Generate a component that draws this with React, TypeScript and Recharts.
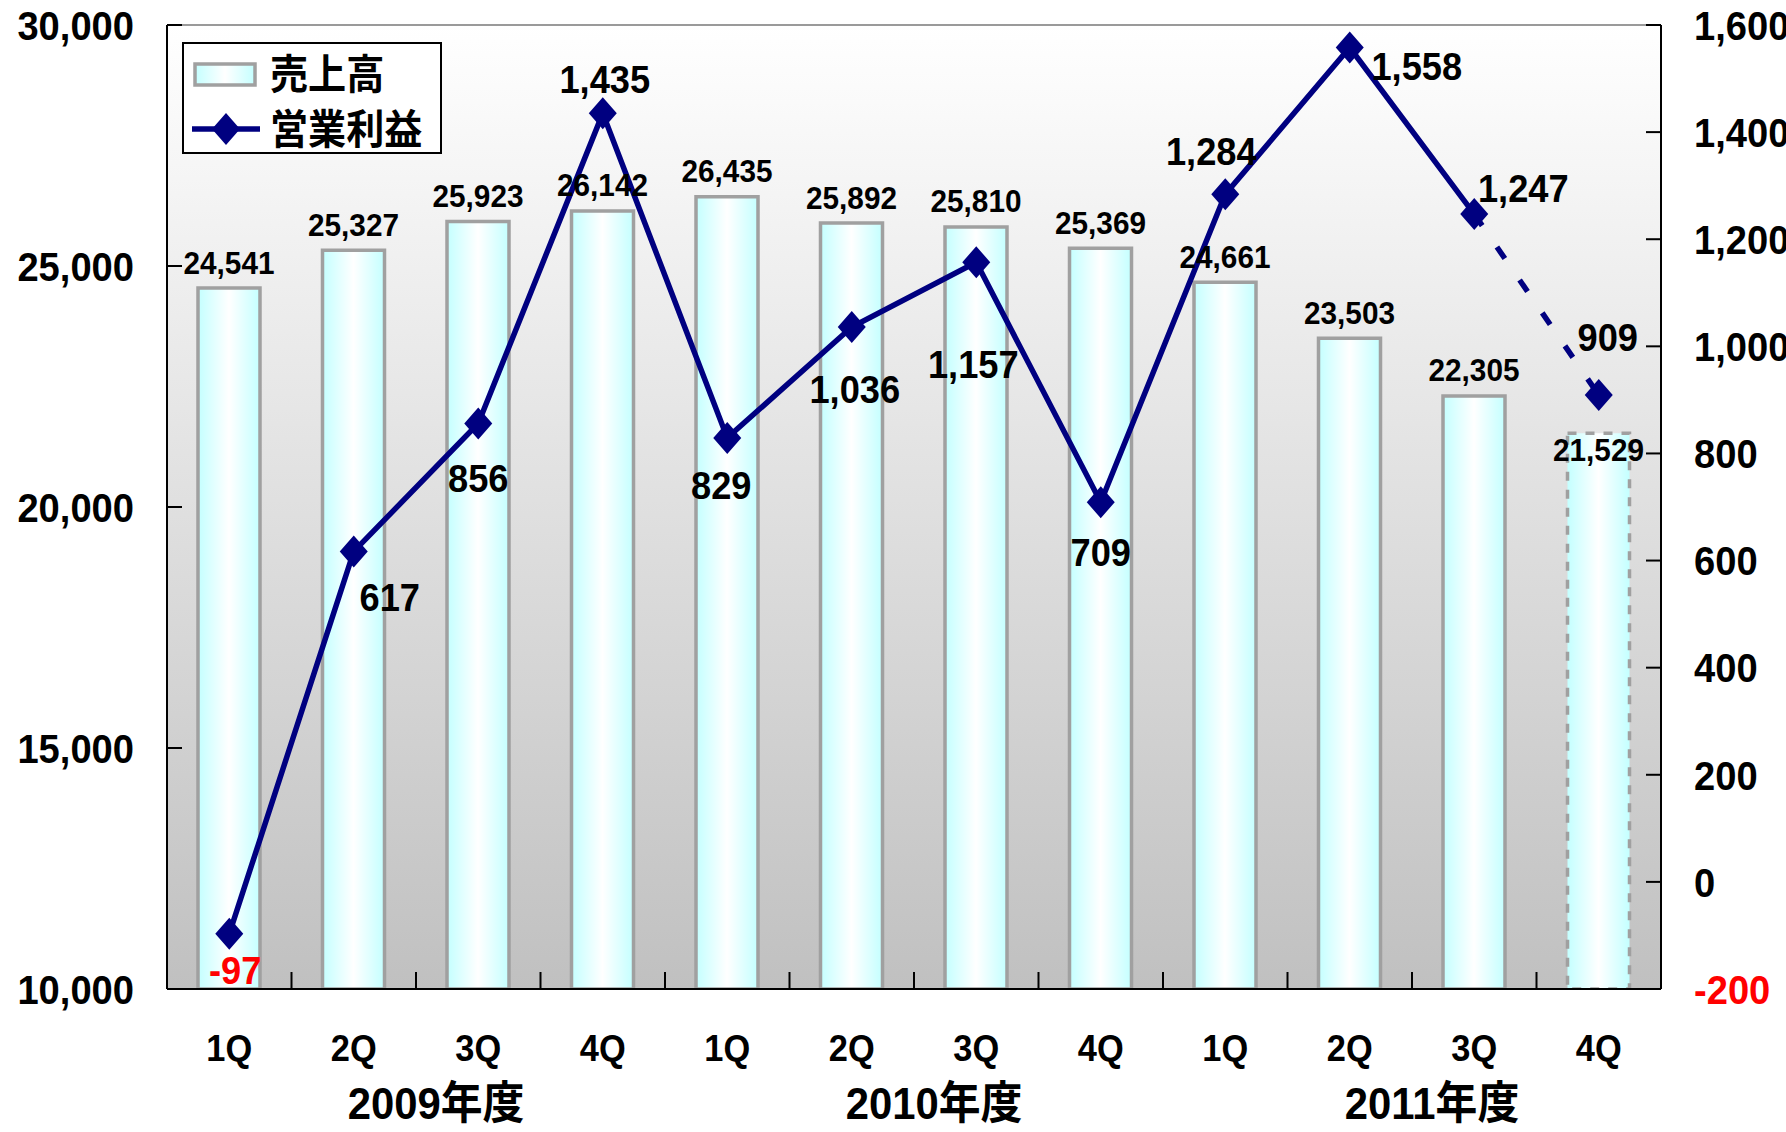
import React from "react";
import {
  ComposedChart,
  Bar,
  Line,
  XAxis,
  YAxis,
  CartesianGrid,
  LabelList,
  Cell,
  Legend,
  ReferenceLine,
} from "recharts";

// ---- data ----
const quarters = ["1Q", "2Q", "3Q", "4Q", "1Q", "2Q", "3Q", "4Q", "1Q", "2Q", "3Q", "4Q"];
const fiscalYears = ["2009年度", "2010年度", "2011年度"];
const sales = [24541, 25327, 25923, 26142, 26435, 25892, 25810, 25369, 24661, 23503, 22305, 21529];
const operatingProfit = [-97, 617, 856, 1435, 829, 1036, 1157, 709, 1284, 1558, 1247, 909];
const salesTicks = [10000, 15000, 20000, 25000, 30000];
const profitTicks = [-200, 0, 200, 400, 600, 800, 1000, 1200, 1400, 1600];
const forecastIndex = 11; // last quarter is a forecast

// label offsets for the profit values (dx, dy from the marker)
const profitLabelOffsets = [
  [6, 36], [36, 46], [0, 55], [2, -34], [-6, 47], [3, 62],
  [-3, 102], [0, 50], [-14, -43], [67, 18], [49, -26], [9, -58],
];

const data = quarters.map((q, i) => ({
  idx: i,
  sales: sales[i],
  profit: operatingProfit[i],
  solid: i < forecastIndex ? operatingProfit[i] : null,
  dashed: i >= forecastIndex - 1 ? operatingProfit[i] : null,
}));

// ---- layout ----
const W = 1786;
const H = 1132;
const PLOT_L = 167;
const PLOT_R = 1661;
const PLOT_T = 25;
const PLOT_B = 989;
const LEFT_W = 150;
const RIGHT_W = 110;
const XAXIS_H = 140;
const BAND = (PLOT_R - PLOT_L) / quarters.length;

const FONT = "'Liberation Sans', 'Noto Sans CJK JP', sans-serif";
const NAVY = "#000080";
const SX = 0.93;

function T({ x, y, size, color = "#000", anchor = "middle", children }: any) {
  return (
    <text
      transform={`translate(${x},${y}) scale(${SX},1)`}
      textAnchor={anchor}
      dy="0.36em"
      fontSize={size}
      fontWeight="bold"
      fontFamily={FONT}
      fill={color}
    >
      {children}
    </text>
  );
}

const QuarterTick = (props: any) => {
  const { x, payload } = props;
  const i = Number(payload.value);
  return (
    <g>
      <T x={x} y={PLOT_B + 59} size={37}>{quarters[i]}</T>
      {i < quarters.length - 1 && (
        <line x1={x + BAND / 2} x2={x + BAND / 2} y1={PLOT_B} y2={PLOT_B - 17} stroke="#000" strokeWidth={2} />
      )}
      {i % 4 === 1 && (
        <T x={x + BAND / 2 + 20} y={PLOT_B + 114} size={45}>{fiscalYears[Math.floor(i / 4)]}</T>
      )}
    </g>
  );
};

const SalesTick = (props: any) => {
  const { y, payload } = props;
  return (
    <g>
      <line x1={PLOT_L} x2={PLOT_L + 15} y1={y} y2={y} stroke="#000" strokeWidth={2} />
      <T x={PLOT_L - 33} y={y} size={41} anchor="end">{payload.value.toLocaleString("en-US")}</T>
    </g>
  );
};

const ProfitTick = (props: any) => {
  const { y, payload } = props;
  const v = payload.value;
  return (
    <g>
      <line x1={PLOT_R - 15} x2={PLOT_R} y1={y} y2={y} stroke="#000" strokeWidth={2} />
      <T x={PLOT_R + 33} y={y} size={41} anchor="start" color={v < 0 ? "#ff0000" : "#000"}>
        {v.toLocaleString("en-US")}
      </T>
    </g>
  );
};

const SalesLabel = (props: any) => {
  const { x, y, width, value, index } = props;
  const dy = index === forecastIndex ? 16 : -26;
  return <T x={x + width / 2} y={y + dy} size={32}>{Number(value).toLocaleString("en-US")}</T>;
};

const ProfitLabel = (props: any) => {
  const { x, y, value, index } = props;
  const [dx, dy] = profitLabelOffsets[index];
  return (
    <T x={x + dx} y={y + dy} size={39} color={value < 0 ? "#ff0000" : "#000"}>
      {Number(value).toLocaleString("en-US")}
    </T>
  );
};

const Diamond = (props: any) => {
  const { cx, cy } = props;
  if (cx == null || cy == null) return null;
  return <polygon points={`${cx},${cy - 16} ${cx + 14},${cy} ${cx},${cy + 16} ${cx - 14},${cy}`} fill={NAVY} />;
};

const LegendBox = () => (
  <svg width={260} height={112} style={{ display: "block" }}>
    <defs>
      <linearGradient id="legBar" x1="0" y1="0" x2="1" y2="0">
        <stop offset="0%" stopColor="#c4ffff" />
        <stop offset="50%" stopColor="#ffffff" />
        <stop offset="100%" stopColor="#c4ffff" />
      </linearGradient>
    </defs>
    <rect x={1} y={1} width={258} height={110} fill="#fff" stroke="#000" strokeWidth={2} />
    <rect x={13} y={22} width={60} height={21} fill="url(#legBar)" stroke="#a0a0a0" strokeWidth={3.5} />
    <line x1={10} x2={78} y1={87} y2={87} stroke={NAVY} strokeWidth={5.5} />
    <polygon points="44,71 58,87 44,103 30,87" fill={NAVY} />
    <T x={88} y={32} size={41} anchor="start">売上高</T>
    <T x={88} y={87} size={41} anchor="start">営業利益</T>
  </svg>
);

export default function App() {
  return (
    <div style={{ position: "absolute", left: 0, top: 0, width: W, height: H, background: "#fff" }}>
      <ComposedChart
        width={W}
        height={H}
        data={data}
        margin={{
          top: PLOT_T,
          left: PLOT_L - LEFT_W,
          right: W - PLOT_R - RIGHT_W,
          bottom: H - PLOT_B - XAXIS_H,
        }}
      >
        <defs>
          <linearGradient id="bgGrad" x1="0" y1="0" x2="0" y2="1">
            <stop offset="0%" stopColor="#ffffff" />
            <stop offset="100%" stopColor="#c0c0c0" />
          </linearGradient>
          <linearGradient id="barGrad" x1="0" y1="0" x2="1" y2="0">
            <stop offset="0%" stopColor="#c4ffff" />
            <stop offset="50%" stopColor="#ffffff" />
            <stop offset="100%" stopColor="#c4ffff" />
          </linearGradient>
        </defs>
        <CartesianGrid horizontal={false} vertical={false} fill="url(#bgGrad)" />
        <XAxis
          dataKey="idx"
          type="category"
          interval={0}
          height={XAXIS_H}
          tickLine={false}
          tickSize={0}
          axisLine={{ stroke: "#000", strokeWidth: 2 }}
          tick={<QuarterTick />}
        />
        <YAxis
          yAxisId="sales"
          domain={[10000, 30000]}
          ticks={salesTicks}
          width={LEFT_W}
          tickLine={false}
          tickSize={0}
          axisLine={{ stroke: "#000", strokeWidth: 2 }}
          tick={<SalesTick />}
          allowDataOverflow
        />
        <YAxis
          yAxisId="profit"
          orientation="right"
          domain={[-200, 1600]}
          ticks={profitTicks}
          width={RIGHT_W}
          tickLine={false}
          tickSize={0}
          axisLine={{ stroke: "#000", strokeWidth: 2 }}
          tick={<ProfitTick />}
          allowDataOverflow
        />
        <ReferenceLine yAxisId="sales" y={30000} stroke="#9a9a9a" strokeWidth={2} />
        <Legend
          layout="horizontal"
          verticalAlign="middle"
          align="center"
          wrapperStyle={{ left: 182, top: 42, width: 260, height: 112 }}
          content={() => <LegendBox />}
        />
        <Bar
          yAxisId="sales"
          dataKey="sales"
          barSize={62}
          fill="url(#barGrad)"
          stroke="#a0a0a0"
          strokeWidth={3.5}
          isAnimationActive={false}
        >
          {data.map((d, i) => (
            <Cell key={i} strokeDasharray={i === forecastIndex ? "9 9" : undefined} />
          ))}
          <LabelList dataKey="sales" content={<SalesLabel />} />
        </Bar>
        <Line
          yAxisId="profit"
          dataKey="solid"
          stroke={NAVY}
          strokeWidth={5.5}
          dot={false}
          activeDot={false}
          connectNulls={false}
          isAnimationActive={false}
        />
        <Line
          yAxisId="profit"
          dataKey="dashed"
          stroke={NAVY}
          strokeWidth={5.5}
          strokeDasharray="14 26"
          dot={false}
          activeDot={false}
          connectNulls={false}
          isAnimationActive={false}
        />
        <Line
          yAxisId="profit"
          dataKey="profit"
          stroke="none"
          dot={<Diamond />}
          activeDot={false}
          isAnimationActive={false}
        >
          <LabelList dataKey="profit" content={<ProfitLabel />} />
        </Line>
      </ComposedChart>
    </div>
  );
}
